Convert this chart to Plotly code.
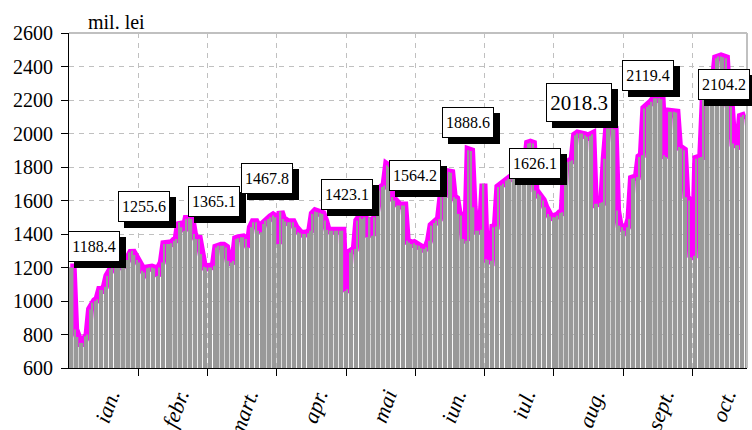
import plotly.graph_objects as go

# ---- data ----
months = ["ian.", "febr.", "mart.", "apr.", "mai", "iun.", "iul.", "aug.", "sept.", "oct."]

jan = [1200, 1200, 830, 785, 750, 750, 790, 800, 950, 990, 1000, 1010, 1065, 1065,
       1085, 1150, 1190, 1200, 1200, 1200, 1200, 1210, 1215, 1245, 1290, 1300, 1275, 1245]
feb = [1230, 1180, 1170, 1195, 1200, 1200, 1195, 1150, 1200, 1230, 1340, 1340, 1340, 1345,
       1360, 1370, 1470, 1440, 1420, 1490, 1495, 1490, 1400, 1370, 1370, 1280, 1205, 1200]
mar = [1200, 1200, 1210, 1320, 1330, 1330, 1330, 1320, 1240, 1230, 1240, 1370, 1375, 1380,
       1380, 1370, 1320, 1440, 1470, 1470, 1420, 1410, 1460, 1480, 1490, 1500, 1510, 1500]
apr = [1340, 1535, 1490, 1475, 1470, 1470, 1470, 1440, 1410, 1405, 1400, 1400, 1405, 1420,
       1520, 1535, 1530, 1525, 1520, 1480, 1425, 1420, 1420, 1420, 1420, 1420, 1420, 1060]
may = [1070, 1290, 1305, 1310, 1480, 1500, 1490, 1500, 1380, 1500, 1390, 1500, 1600, 1660,
       1680, 1690, 1810, 1800, 1620, 1600, 1570, 1570, 1570, 1570, 1360, 1350, 1340, 1345]
jun = [1335, 1330, 1315, 1310, 1320, 1360, 1450, 1465, 1480, 1490, 1620, 1630, 1770, 1770,
       1765, 1620, 1610, 1520, 1510, 1370, 1360, 1900, 1895, 1560, 1420, 1420, 1425, 1700]
jul = [1250, 1245, 1240, 1440, 1445, 1680, 1690, 1700, 1720, 1730, 1740, 1750, 1760, 1780,
       1780, 1790, 1800, 1940, 1945, 1940, 1660, 1640, 1630, 1600, 1560, 1520, 1505, 1500]
aug = [1500, 1510, 1525, 1530, 1800, 1830, 1835, 1840, 1990, 2000, 2000, 2000, 1990, 1980,
       1985, 1995, 1580, 1580, 1585, 1590, 1850, 2030, 2030, 2030, 2025, 1540, 1450, 1440]
sep = [1420, 1440, 1490, 1730, 1735, 1740, 1860, 1870, 2150, 2160, 2170, 2190, 2210, 2210,
       2210, 2205, 1870, 1860, 2130, 2130, 2130, 2125, 1920, 1910, 1900, 1620, 1600, 1260]
octo = [1270, 1850, 1855, 1860, 2200, 2250, 2260, 2270, 2300, 2450, 2460, 2460, 2455, 2450,
        2170, 2160, 1940, 1930, 1930, 2100, 2110, 2110]

box_labels = ["1188.4", "1255.6", "1365.1", "1467.8", "1423.1", "1564.2",
              "1888.6", "1626.1", "2018.3", "2119.4", "2104.2"]

month_data = [jan, feb, mar, apr, may, jun, jul, aug, sep, octo]
values = [v for m in month_data for v in m]
days = list(range(len(values)))
n = len(values)

# month boundaries and label positions (category units)
bounds, centers = [], []
start = 0
for m in month_data:
    centers.append(start + len(m) / 2 - 0.5)
    start += len(m)
    bounds.append(start - 0.5)
bounds = bounds[:-1]
label_shift = 2.5
label_pos = [c + label_shift for c in centers]

FONT = "Liberation Serif"
L, R, T, B, W, H = 69, 5, 33, 62, 752, 430
PW, PH = W - L - R, H - T - B

fig = go.Figure()
fig.add_trace(go.Scatter(x=days, y=values, mode="lines",
                         line=dict(color="#ff00ff", width=8),
                         xaxis="x", yaxis="y", hoverinfo="skip"))
fig.add_trace(go.Bar(x=days, y=values,
                     marker=dict(color="#999999", opacity=0.999, line=dict(width=0)),
                     xaxis="x2", yaxis="y2", hoverinfo="skip"))

grid = dict(gridcolor="#c0c0c0", gridwidth=1, griddash="5px,5px")
fig.update_layout(
    width=W, height=H, margin=dict(l=L, r=R, t=T, b=B, autoexpand=False),
    paper_bgcolor="white", plot_bgcolor="white", showlegend=False,
    bargap=0.4,
    font=dict(family=FONT, color="black"),
    xaxis=dict(range=[-0.5, n - 0.5], tickmode="array", tickvals=label_pos, ticktext=months,
               ticks="", showgrid=False, tickangle=-70, ticklabelstandoff=5, automargin=False,
               tickfont=dict(family=FONT, size=22, style="italic", color="black"),
               showline=True, linecolor="black", linewidth=1, zeroline=False,
               minor=dict(tickmode="array", tickvals=bounds, ticks="outside", ticklen=7,
                          tickcolor="black", tickwidth=1, showgrid=True, **grid)),
    yaxis=dict(range=[600, 2600], tick0=600, dtick=200, ticks="outside", ticklen=7,
               tickcolor="black", showline=True, linecolor="black", linewidth=1,
               showgrid=True, zeroline=False, automargin=False, ticklabelstandoff=4,
               tickfont=dict(family=FONT, size=20, color="black"), **grid),
    xaxis2=dict(overlaying="x", range=[-0.5, n - 0.5], visible=False, automargin=False),
    yaxis2=dict(overlaying="y", range=[600, 2600], visible=False, automargin=False),
)

# plot frame (top and right, gray)
fig.add_shape(type="line", xref="paper", yref="paper", x0=0, x1=1, y0=1, y1=1,
              line=dict(color="#c0c0c0", width=2))
fig.add_shape(type="line", xref="paper", yref="paper", x0=1, x1=1, y0=0, y1=1,
              line=dict(color="#c0c0c0", width=2))

# unit label
fig.add_annotation(text="mil. lei", xref="paper", yref="paper",
                   x=(86 - L) / PW, y=(T + PH - 22) / PH, xanchor="left", yanchor="middle",
                   showarrow=False, font=dict(family=FONT, size=20, color="black"))

# boxed labels with drop shadow (centres in pixels)
box_centers = [(93.5, 246.2), (143.7, 206.7), (213.5, 201.3), (267.2, 178.0),
               (346.7, 194.3), (415.0, 175.8), (468.2, 122.8), (535.2, 163.5),
               (578.7, 102.2), (647.5, 75.3), (723.8, 84.2)]
for txt, (cx, cy) in zip(box_labels, box_centers):
    big = txt == "2018.3"
    fs, bw, bh = (21, 62, 35) if big else (16, 48, 27)
    xp, yp = (cx - L) / PW, (T + PH - cy) / PH
    for shadow in (True, False):
        fig.add_annotation(text=txt, xref="paper", yref="paper", x=xp, y=yp,
                           xanchor="center", yanchor="middle", showarrow=False,
                           width=bw, height=bh, borderpad=1, borderwidth=1,
                           bordercolor="black",
                           bgcolor="black" if shadow else "white",
                           xshift=6 if shadow else 0, yshift=-6 if shadow else 0,
                           font=dict(family=FONT, size=fs, color="black"))

fig.write_html("out.html", config={"displayModeBar": False},
               post_script="document.body.style.margin='0';document.body.style.overflow='hidden';")
